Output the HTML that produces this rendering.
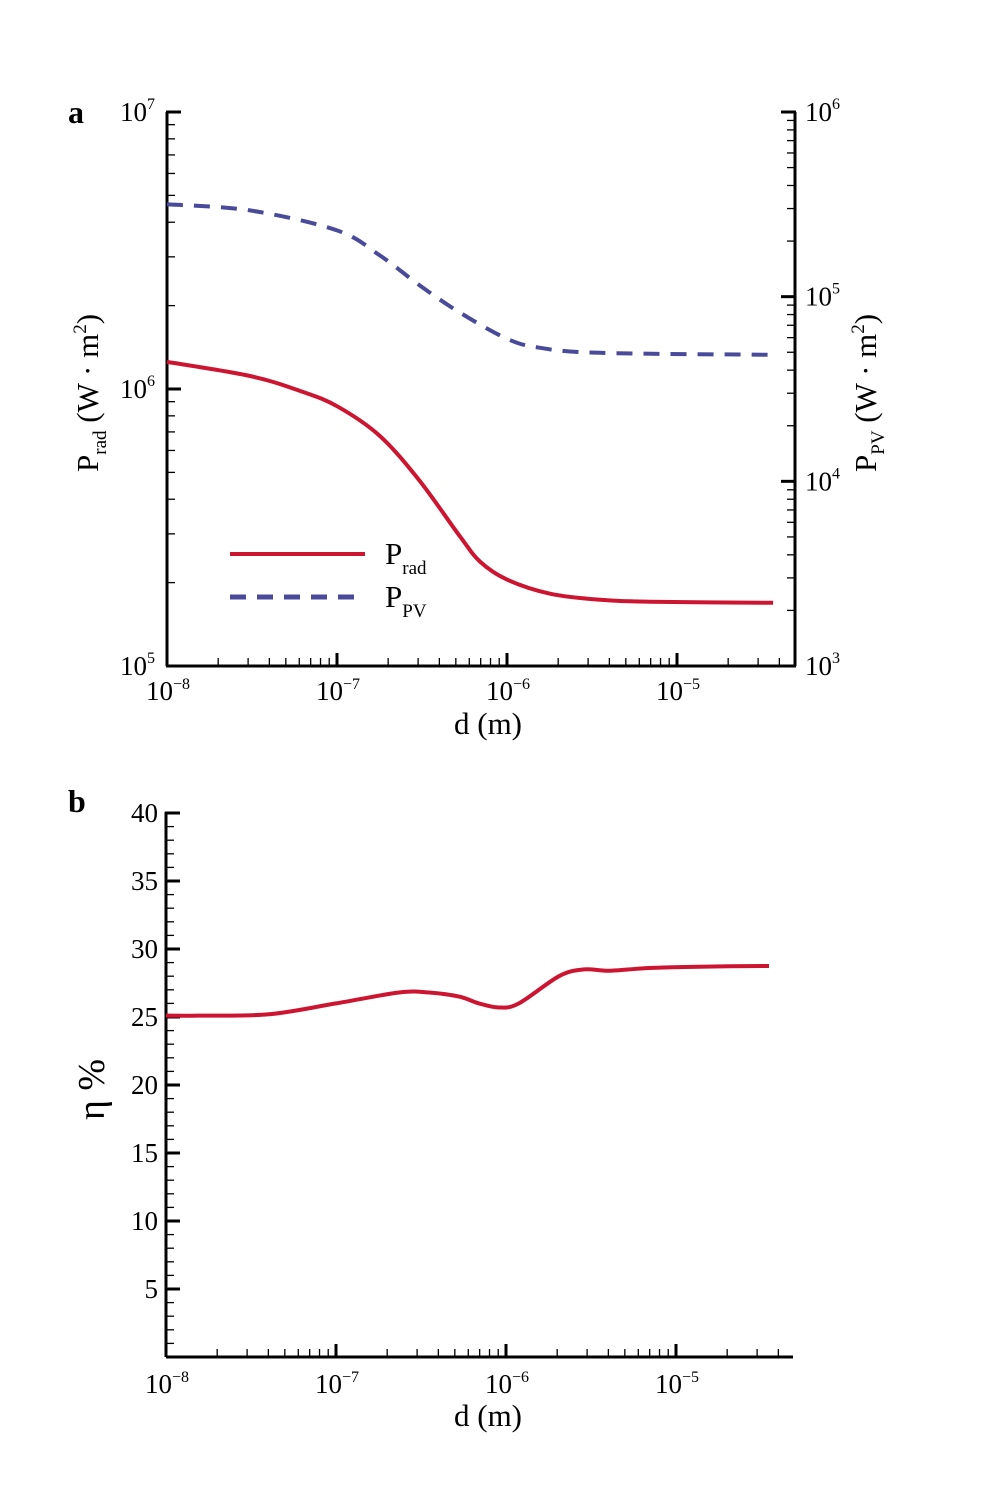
<!DOCTYPE html>
<html><head><meta charset="utf-8"><style>
html,body{margin:0;padding:0;background:#fff}
svg{display:block;font-family:"Liberation Serif",serif}
</style></head><body>
<svg id="fig" width="1001" height="1503" viewBox="0 0 1001 1503" xmlns="http://www.w3.org/2000/svg">
<g id="gA"></g>
<g id="gB"></g>
</svg>
<script>
// Panel a data: log10 of d, log10 P
const radLogD = [-8, -7.512, -7.218, -7, -6.747, -6.512, -6.276, -6.159, -6, -5.747, -5.453, -5.159, -4.435];
const radLogP = [6.098, 6.047, 5.993, 5.938, 5.830, 5.667, 5.467, 5.377, 5.312, 5.261, 5.239, 5.232, 5.228];
const pvLogD = [-8, -7.512, -7, -6.747, -6.512, -6.276, -6, -5.806, -5.453, -4.435];
const pvLogP = [5.5, 5.467, 5.359, 5.223, 5.060, 4.913, 4.772, 4.723, 4.696, 4.685];
// Panel b data
const etaLogD = [-8, -7.806, -7.394, -7, -6.629, -6.453, -6.276, -6.159, -6.041, -5.924, -5.688, -5.541, -5.394, -5.159, -4.865, -4.453];
const etaVal = [25.1, 25.1, 25.2, 26.0, 26.8, 26.8, 26.5, 26.0, 25.7, 26.0, 28.0, 28.5, 28.4, 28.6, 28.7, 28.75];
const xTickExp = [-8, -7, -6, -5];
const leftTickExp = [7, 6, 5];
const rightTickExp = [6, 5, 4, 3];
const etaTicks = [5, 10, 15, 20, 25, 30, 35, 40];

const NS = "http://www.w3.org/2000/svg";
function el(p, tag, attrs, txt) {
  const e = document.createElementNS(NS, tag);
  for (const k in attrs) e.setAttribute(k, attrs[k]);
  if (txt !== undefined) e.textContent = txt;
  p.appendChild(e); return e;
}
const gA = document.getElementById('gA');
const gB = document.getElementById('gB');

const aL = 167, aR = 795, aT = 112, aB = 666;
const xA = v => aL + (v + 8) * 170;
const yL = v => aT + (7 - v) * (aB - aT) / 2;
const yR = v => aT + (6 - v) * (aB - aT) / 3;
const bL = 166, bR = 793, bB = 1357;
const xB = v => bL + (v + 8) * 170;
const yB = v => bB - v * 13.6;

function xAxis(g, L, R, Y, xf, labY) {
  const ax = el(g, 'line', {x1: L, y1: Y, x2: R, y2: Y, stroke: '#000', 'stroke-width': 3});
  
  
  for (let e = -8; e <= -5; e++) {
    for (let m = 1; m <= 9; m++) {
      const x = xf(e + Math.log10(m));
      if (x > R) continue;
      el(g, 'line', {x1: x, y1: Y, x2: x, y2: Y - (m === 1 ? 13 : 8), stroke: '#000', 'stroke-width': m === 1 ? 3 : 1.3});
    }
  }
  xTickExp.forEach(e => {
    const t = el(g, 'text', {x: xf(e) - 21, y: labY, 'font-size': 27});
    
    
    t.appendChild(document.createTextNode('10'));
    el(t, 'tspan', {dy: -11, 'font-size': 16}, '\u2212' + (-e));
  });
}
function logYAxis(g, X, T, B, yf, exps, dir, labX) {
  const ax = el(g, 'line', {x1: X, y1: T, x2: X, y2: B, stroke: '#000', 'stroke-width': 3});
  
  
  const lo = Math.min(...exps), hi = Math.max(...exps);
  for (let e = lo; e < hi; e++) for (let m = 2; m <= 9; m++) {
    const y = yf(e + Math.log10(m));
    el(g, 'line', {x1: X, y1: y, x2: X + dir * 8, y2: y, stroke: '#000', 'stroke-width': 1.3});
  }
  exps.forEach(e => {
    const y = yf(e);
    el(g, 'line', {x1: X - (dir > 0 ? 1 : -1), y1: y, x2: X + dir * 14, y2: y, stroke: '#000', 'stroke-width': 3});
    const t = el(g, 'text', {x: labX, y: y + 9, 'font-size': 27});
    
    
    t.appendChild(document.createTextNode('10'));
    el(t, 'tspan', {dy: -12, 'font-size': 16}, String(e));
  });
}
function path(g, xs, ys, xf, yf, color, dash, name) {
  const P = xs.map((v, i) => [xf(v), yf(ys[i])]);
  let d = 'M' + P[0][0].toFixed(1) + ',' + P[0][1].toFixed(1);
  for (let i = 0; i < P.length - 1; i++) {
    const p0 = P[Math.max(0, i - 1)], p1 = P[i], p2 = P[i + 1], p3 = P[Math.min(P.length - 1, i + 2)];
    const c1 = [p1[0] + (p2[0] - p0[0]) / 6, p1[1] + (p2[1] - p0[1]) / 6];
    const c2 = [p2[0] - (p3[0] - p1[0]) / 6, p2[1] - (p3[1] - p1[1]) / 6];
    d += ' C' + c1.map(n => n.toFixed(1)).join(',') + ' ' + c2.map(n => n.toFixed(1)).join(',') + ' ' + p2.map(n => n.toFixed(1)).join(',');
  }
  const p = el(g, 'path', {d: d, fill: 'none', stroke: color, 'stroke-width': 4, 'stroke-linejoin': 'round'});
  if (dash) p.setAttribute('stroke-dasharray', dash);
  
  
}

// Panel a
let t = el(gA, 'text', {x: 68, y: 123, 'font-size': 32, 'font-weight': 'bold'}, 'a');


xAxis(gA, aL, aR, aB, xA, 700);
logYAxis(gA, aL, aT, aB, yL, leftTickExp, 1, 120);
logYAxis(gA, aR, aT, aB, yR, rightTickExp, -1, 805);
path(gA, pvLogD, pvLogP, xA, yR, '#4a4a9a', '16 11', 'p-pv-line');
path(gA, radLogD, radLogP, xA, yL, '#cc1530', null, 'p-rad-line');
t = el(gA, 'text', {x: 0, y: 0, 'font-size': 31, transform: 'translate(98,472) rotate(-90)'});


t.appendChild(document.createTextNode('P'));
el(t, 'tspan', {dy: 8, 'font-size': 19}, 'rad');
el(t, 'tspan', {dy: -8}, ' (W \u00b7 m');
el(t, 'tspan', {dy: -12, 'font-size': 19}, '2');
el(t, 'tspan', {dy: 12}, ')');
t = el(gA, 'text', {x: 0, y: 0, 'font-size': 31, transform: 'translate(876,472) rotate(-90)'});


t.appendChild(document.createTextNode('P'));
el(t, 'tspan', {dy: 8, 'font-size': 19}, 'PV');
el(t, 'tspan', {dy: -8}, ' (W \u00b7 m');
el(t, 'tspan', {dy: -12, 'font-size': 19}, '2');
el(t, 'tspan', {dy: 12}, ')');
t = el(gA, 'text', {x: 454, y: 734, 'font-size': 31}, 'd (m)');


const lg = el(gA, 'g', {});


el(lg, 'line', {x1: 230, y1: 554, x2: 365, y2: 554, stroke: '#cc1530', 'stroke-width': 4});
el(lg, 'line', {x1: 230, y1: 597, x2: 365, y2: 597, stroke: '#4a4a9a', 'stroke-width': 5, 'stroke-dasharray': '16 11'});
t = el(lg, 'text', {x: 385, y: 564, 'font-size': 31});


t.appendChild(document.createTextNode('P'));
el(t, 'tspan', {dy: 10, 'font-size': 19}, 'rad');
t = el(lg, 'text', {x: 385, y: 607, 'font-size': 31});


t.appendChild(document.createTextNode('P'));
el(t, 'tspan', {dy: 10, 'font-size': 19}, 'PV');

// Panel b
t = el(gB, 'text', {x: 68, y: 812, 'font-size': 32, 'font-weight': 'bold'}, 'b');


xAxis(gB, bL, bR, bB, xB, 1393);
const ya = el(gB, 'line', {x1: bL, y1: yB(40) - 1, x2: bL, y2: bB, stroke: '#000', 'stroke-width': 3});


for (let v = 1; v < 40; v++) {
  if (v % 5 === 0) continue;
  el(gB, 'line', {x1: bL, y1: yB(v), x2: bL + 8, y2: yB(v), stroke: '#000', 'stroke-width': 1.3});
}
etaTicks.forEach(v => {
  el(gB, 'line', {x1: bL - 1, y1: yB(v), x2: bL + 14, y2: yB(v), stroke: '#000', 'stroke-width': 3});
  const tt = el(gB, 'text', {x: bL - 8, y: yB(v) + 9, 'font-size': 27, 'text-anchor': 'end'}, String(v));
  
  
});
path(gB, etaLogD, etaVal, xB, yB, '#cc1530', null, 'eta-line');
t = el(gB, 'text', {x: 0, y: 0, 'font-size': 38, transform: 'translate(104,1120) rotate(-90)'}, '\u03b7 %');


t = el(gB, 'text', {x: 454, y: 1426, 'font-size': 31}, 'd (m)');


</script>
</body></html>
